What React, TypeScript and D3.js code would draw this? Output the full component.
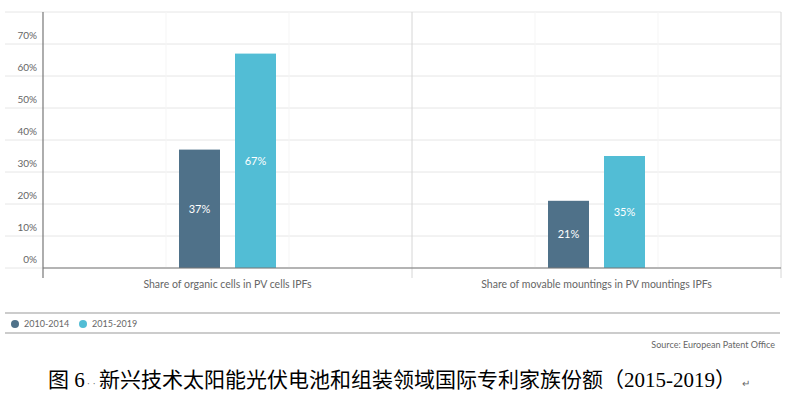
import React, { useEffect, useRef } from 'react';
import * as d3 from 'd3';

const categories = ['Share of organic cells in PV cells IPFs', 'Share of movable mountings in PV mountings IPFs'];
const seriesNames = ['2010-2014', '2015-2019'];
const values2010 = [37, 21];
const values2015 = [67, 35];
const yTicks = [0, 10, 20, 30, 40, 50, 60, 70];
const colors = ['#4f7189', '#52bdd5'];

const App = () => {
  const svgRef = useRef<SVGSVGElement>(null);

  useEffect(() => {
    const svg = d3.select(svgRef.current);
    svg.selectAll('*').remove();

    const font = 'Lato, "Open Sans", sans-serif';
    const left = 43, right = 781, top = 12, bottom = 268;

    const x = d3.scaleBand().domain(categories).range([left, right]);
    const y = d3.scaleLinear().domain([0, 80]).range([bottom, top]);

    // horizontal gridlines
    svg.append('g')
      .selectAll('line')
      .data(d3.range(0, 90, 10))
      .join('line')
      .attr('x1', 5).attr('x2', right)
      .attr('y1', d => y(d)).attr('y2', d => y(d))
      .attr('stroke', '#e6e6e6').attr('stroke-width', 1);

    // faint vertical subdivisions
    const sub = d3.range(1, 6).map(i => left + (right - left) * i / 6).filter((_, i) => i !== 2);
    svg.append('g')
      .selectAll('line')
      .data(sub)
      .join('line')
      .attr('x1', d => d).attr('x2', d => d)
      .attr('y1', top).attr('y2', bottom)
      .attr('stroke', '#f5f5f5');

    // category separators
    svg.append('g')
      .selectAll('line')
      .data([x(categories[1])!, right])
      .join('line')
      .attr('x1', d => d).attr('x2', d => d)
      .attr('y1', top).attr('y2', bottom + 10)
      .attr('stroke', '#d6d6d6');

    // y labels (sit above the gridline)
    svg.append('g')
      .selectAll('text')
      .data(yTicks)
      .join('text')
      .attr('x', 37)
      .attr('y', d => y(d) - 5)
      .attr('text-anchor', 'end')
      .style('font-family', font)
      .style('font-size', '10px')
      .style('fill', '#666')
      .text(d => d + '%');

    // bars
    const barW = 41, gap = 15;
    const series = [values2010, values2015];
    series.forEach((vals, si) => {
      const g = svg.append('g');
      categories.forEach((c, ci) => {
        const cx = x(c)! + x.bandwidth() / 2;
        const bx = si === 0 ? cx - gap / 2 - barW : cx + gap / 2;
        const v = vals[ci];
        g.append('rect')
          .attr('x', bx).attr('width', barW)
          .attr('y', y(v)).attr('height', y(0) - y(v))
          .attr('fill', colors[si]);
        g.append('text')
          .attr('x', bx + barW / 2)
          .attr('y', (y(v) + y(0)) / 2)
          .attr('dy', '0.35em')
          .attr('text-anchor', 'middle')
          .style('font-family', font)
          .style('font-size', '11px')
          .style('fill', '#fff')
          .text(v + '%');
      });
    });

    // axes
    svg.append('line')
      .attr('x1', left).attr('x2', right)
      .attr('y1', bottom).attr('y2', bottom)
      .attr('stroke', '#777').attr('stroke-width', 1.2);
    svg.append('line')
      .attr('x1', left).attr('x2', left)
      .attr('y1', top).attr('y2', bottom + 10)
      .attr('stroke', '#777').attr('stroke-width', 1.2);

    // category labels
    svg.append('g')
      .selectAll('text')
      .data(categories)
      .join('text')
      .attr('x', d => x(d)! + x.bandwidth() / 2)
      .attr('y', 288)
      .attr('text-anchor', 'middle')
      .style('font-family', font)
      .style('font-size', '10.5px')
      .style('fill', '#666')
      .text(d => d);

    // legend box
    [313, 333].forEach(ly => {
      svg.append('line')
        .attr('x1', 5).attr('x2', 780)
        .attr('y1', ly).attr('y2', ly)
        .attr('stroke', '#999').attr('stroke-width', 1);
    });
    const legendX = [15, 83];
    seriesNames.forEach((s, i) => {
      svg.append('circle')
        .attr('cx', legendX[i]).attr('cy', 324).attr('r', 4)
        .attr('fill', colors[i]);
      svg.append('text')
        .attr('x', legendX[i] + 9).attr('y', 324).attr('dy', '0.35em')
        .style('font-family', font)
        .style('font-size', '9px')
        .style('fill', '#666')
        .text(s);
    });

    svg.append('text')
      .attr('x', 775).attr('y', 348)
      .attr('text-anchor', 'end')
      .style('font-family', font)
      .style('font-size', '9px')
      .style('fill', '#666')
      .text('Source: European Patent Office');

    // caption
    const cap = svg.append('text')
      .attr('x', 48).attr('y', 387)
      .style('font-family', '"Liberation Serif", "Noto Sans CJK SC", serif')
      .style('font-size', '21px')
      .style('fill', '#000');
    cap.append('tspan').text('图 6');
    cap.append('tspan').attr('dx', 2).style('font-size', '10px').style('fill', '#666').text('·  ·');
    cap.append('tspan').attr('dx', 3).text('新兴技术太阳能光伏电池和组装领域国际专利家族份额（2015-2019）');
    cap.append('tspan').attr('dx', 6).style('font-size', '10px').style('fill', '#666').text('↵');
  }, []);

  return <svg ref={svgRef} width={785} height={394} style={{ position: 'absolute', left: 0, top: 0, background: '#fff' }} />;
};

export default App;
